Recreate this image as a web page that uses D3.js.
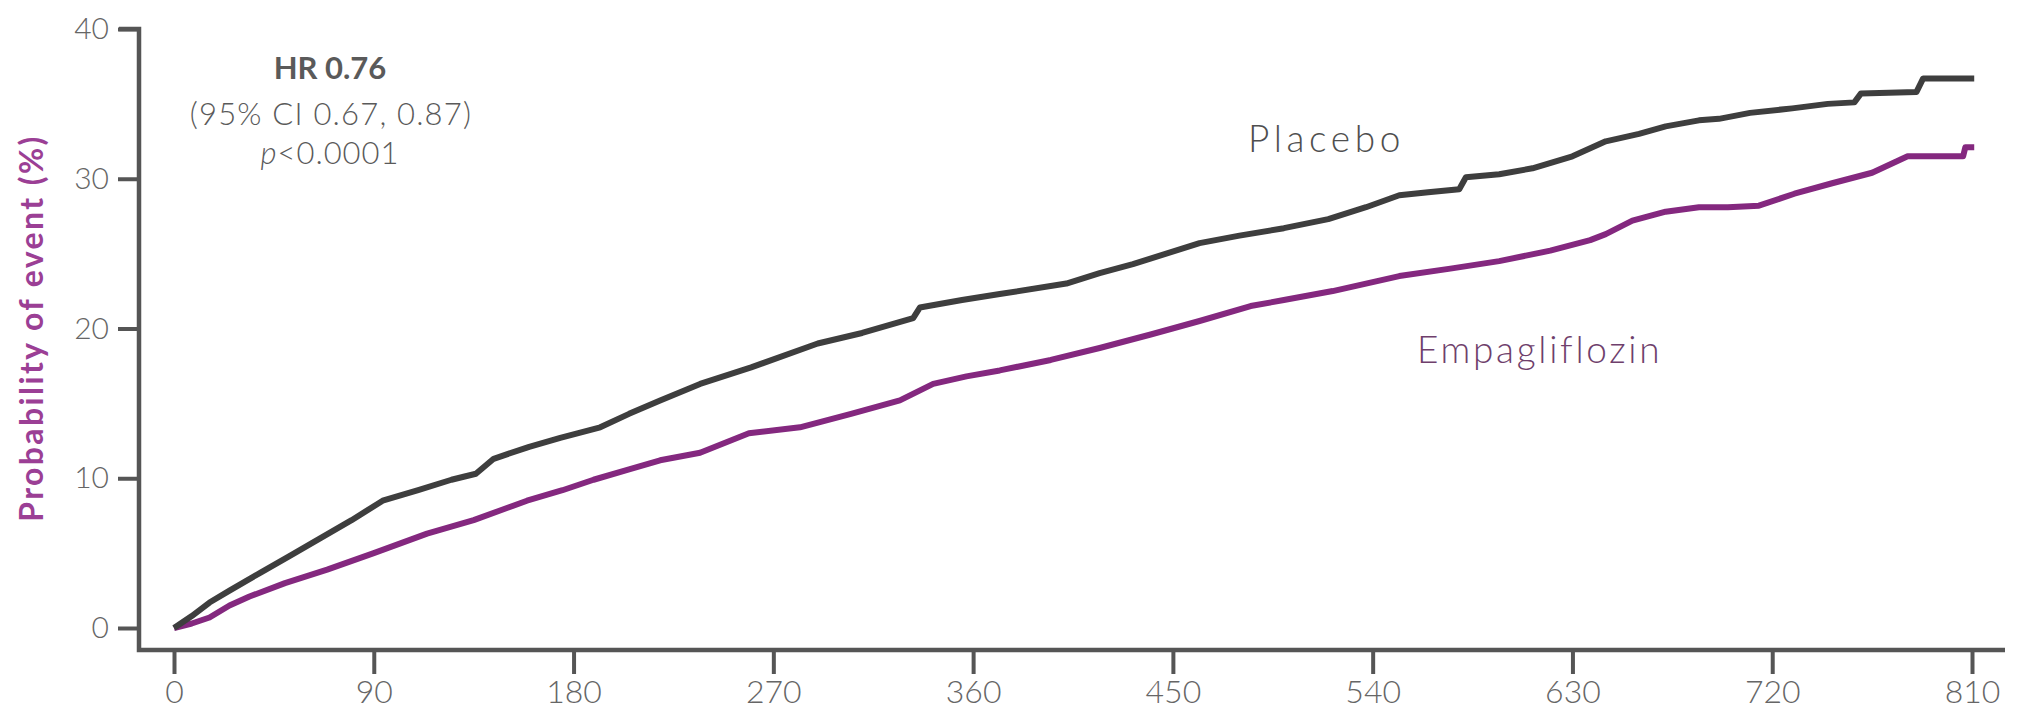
<!DOCTYPE html>
<html>
<head>
<meta charset="utf-8">
<script src="https://cdn.jsdelivr.net/npm/d3@7"></script>
<style>
  html, body { margin: 0; padding: 0; background: #ffffff; }
  svg { display: block; }
  text { font-family: Lato, "Open Sans", sans-serif; }
</style>
</head>
<body>
<svg id="chart" width="2019" height="714"></svg>
<script>
// Kaplan–Meier cumulative event probability (%), by study day
const placeboDays = [0, 8, 16, 25, 39, 52, 66, 80, 94, 110, 125, 136, 144, 160, 174, 192, 205, 219, 237, 260,
  290, 310, 333, 336, 355, 372, 402, 417, 432, 462, 480, 500, 520, 537, 552, 565, 579, 582, 597, 612,
  630, 645, 660, 672, 687, 696, 710, 729, 745, 757, 760, 785, 788, 811];
const placeboValues = [0, 0.8, 1.7, 2.5, 3.7, 4.8, 6.0, 7.2, 8.5, 9.2, 9.9, 10.3, 11.3, 12.1, 12.7, 13.4, 14.3, 15.2, 16.3, 17.4,
  19.0, 19.7, 20.7, 21.4, 21.9, 22.3, 23.0, 23.7, 24.3, 25.7, 26.2, 26.7, 27.3, 28.1, 28.9, 29.1, 29.3, 30.1, 30.3, 30.7,
  31.5, 32.5, 33.0, 33.5, 33.9, 34.0, 34.4, 34.7, 35.0, 35.1, 35.7, 35.8, 36.7, 36.7];

const empaDays = [0, 8, 16, 25, 34, 50, 69, 90, 114, 135, 159, 175, 189, 205, 219, 237, 259, 282, 305, 327,
  342, 357, 372, 395, 417, 440, 462, 485, 500, 522, 552, 575, 597, 620, 638, 645, 657, 672, 687, 700,
  714, 730, 747, 765, 781, 800, 806, 807, 811];
const empaValues = [0, 0.3, 0.7, 1.5, 2.1, 3.0, 3.9, 5.0, 6.3, 7.2, 8.5, 9.2, 9.9, 10.6, 11.2, 11.7, 13.0, 13.4, 14.3, 15.2,
  16.3, 16.8, 17.2, 17.9, 18.7, 19.6, 20.5, 21.5, 21.9, 22.5, 23.5, 24.0, 24.5, 25.2, 25.9, 26.3, 27.2, 27.8, 28.1, 28.1,
  28.2, 29.0, 29.7, 30.4, 31.5, 31.5, 31.5, 32.1, 32.1];

const xTicks = [0, 90, 180, 270, 360, 450, 540, 630, 720, 810];
const yTicks = [0, 10, 20, 30, 40];

const svg = d3.select("#chart");

const x = d3.scaleLinear().domain([0, 810]).range([174, 1972]);
const y = d3.scaleLinear().domain([0, 40]).range([628, 29]);

const axisColor = "#555555";
const tickTextColor = "#666666";
const spineX = 139;   // y-axis spine, offset left of day 0
const spineY = 650;   // x-axis spine, offset below 0%

// y axis ticks and labels
const yAxis = svg.append("g")
  .attr("transform", `translate(${spineX},0)`)
  .call(d3.axisLeft(y).tickValues(yTicks).tickSize(21).tickPadding(9).tickFormat(d3.format("d")));
yAxis.select(".domain").remove();
yAxis.selectAll(".tick line").attr("stroke", axisColor).attr("stroke-width", 4);
yAxis.selectAll(".tick text")
  .attr("fill", tickTextColor).attr("font-size", 30).attr("font-weight", 300)
  .attr("font-family", "Lato, sans-serif");

// x axis ticks and labels
const xAxis = svg.append("g")
  .attr("transform", `translate(0,${spineY})`)
  .call(d3.axisBottom(x).tickValues(xTicks).tickSize(24).tickPadding(6).tickFormat(d3.format("d")));
xAxis.select(".domain").remove();
xAxis.selectAll(".tick line").attr("stroke", axisColor).attr("stroke-width", 4);
xAxis.selectAll(".tick text")
  .attr("fill", tickTextColor).attr("font-size", 32).attr("font-weight", 300)
  .attr("font-family", "Lato, sans-serif");

// axis spines
svg.append("path")
  .attr("d", `M${spineX - 20},${y(40)}H${spineX}V${spineY}H2005`)
  .attr("fill", "none").attr("stroke", axisColor).attr("stroke-width", 4.5)
  .attr("stroke-linejoin", "miter");

// curves
const line = d3.line().x(d => x(d[0])).y(d => y(d[1])).curve(d3.curveLinear);
const placebo = d3.zip(placeboDays, placeboValues);
const empa = d3.zip(empaDays, empaValues);

svg.append("path").datum(empa)
  .attr("d", line).attr("fill", "none")
  .attr("stroke", "#84287f").attr("stroke-width", 6).attr("stroke-linejoin", "round");
svg.append("path").datum(placebo)
  .attr("d", line).attr("fill", "none")
  .attr("stroke", "#3e3e3e").attr("stroke-width", 6).attr("stroke-linejoin", "round");

// y-axis title
svg.append("text")
  .attr("transform", "translate(43,328) rotate(-90)")
  .attr("text-anchor", "middle")
  .attr("fill", "#9b3f95").attr("font-size", 32).attr("font-weight", 700)
  .attr("letter-spacing", 2.4)
  .text("Probability of event (%)");

// hazard ratio annotation
const ann = svg.append("g").attr("fill", "#5a5a5a").attr("text-anchor", "middle");
ann.append("text").attr("x", 330).attr("y", 79)
  .attr("font-size", 31).attr("font-weight", 700).text("HR 0.76");
ann.append("text").attr("x", 331).attr("y", 125)
  .attr("font-size", 31).attr("font-weight", 300).attr("letter-spacing", 1.2)
  .text("(95% CI 0.67, 0.87)");
const pText = ann.append("text").attr("x", 330).attr("y", 164)
  .attr("font-size", 31).attr("font-weight", 300).attr("letter-spacing", 1);
pText.append("tspan").attr("font-style", "italic").text("p");
pText.append("tspan").text("<0.0001");

// series labels
svg.append("text").attr("x", 1248).attr("y", 152)
  .attr("fill", "#4f4f4f").attr("font-size", 37).attr("font-weight", 300)
  .attr("letter-spacing", 4.6).text("Placebo");
svg.append("text").attr("x", 1417).attr("y", 363)
  .attr("fill", "#6f3f6c").attr("font-size", 37).attr("font-weight", 300)
  .attr("letter-spacing", 2.7).text("Empagliflozin");
</script>
</body>
</html>
